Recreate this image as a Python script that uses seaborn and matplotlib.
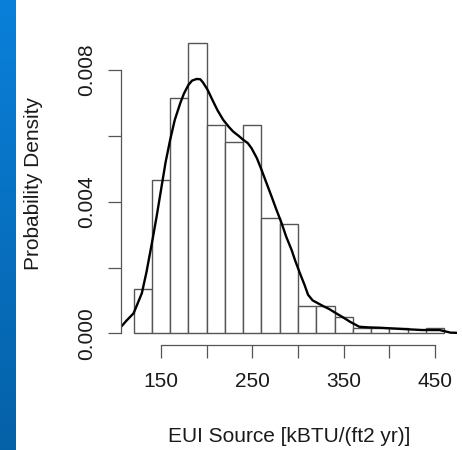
import numpy as np
import matplotlib
matplotlib.use("Agg")
import matplotlib.pyplot as plt
import seaborn as sns
from matplotlib.colors import LinearSegmentedColormap

# ---- data ----
bin_edges = [120, 140, 160, 180, 200, 220, 240, 260, 280, 300, 320, 340,
             360, 380, 400, 420, 440, 460]
bin_density = [0.00134, 0.00465, 0.00715, 0.00881, 0.00632, 0.00582, 0.00632,
               0.00349, 0.00333, 0.00082, 0.00082, 0.00051, 0.00016, 0.00016,
               0.00016, 0.0, 0.00016]
kde_x = [100, 107, 112, 120, 129, 134, 140, 145, 150, 155, 160, 165, 171,
         175, 180, 184, 189, 193, 196, 201, 207, 212, 218, 224, 229, 235,
         240, 245, 249, 255, 260, 265, 271, 276, 282, 287, 293, 297, 302,
         307, 311, 316, 322, 328, 334, 341, 349, 357, 367, 377, 389, 415,
         436, 455, 467, 480]
kde_y = [0.00010, 0.00022, 0.00038, 0.00061, 0.00122, 0.00185, 0.00274,
         0.00352, 0.00436, 0.00520, 0.00588, 0.00648, 0.00699, 0.00728,
         0.00755, 0.00768, 0.00773, 0.00772, 0.00762, 0.00740, 0.00705,
         0.00677, 0.00649, 0.00628, 0.00613, 0.00600, 0.00588, 0.00578,
         0.00563, 0.00532, 0.00497, 0.00460, 0.00416, 0.00378, 0.00335,
         0.00294, 0.00253, 0.00220, 0.00183, 0.00148, 0.00117, 0.00100,
         0.00091, 0.00082, 0.00074, 0.00062, 0.00049, 0.00035, 0.00020,
         0.00018, 0.00017, 0.00013, 0.00010, 0.00010, 0.00002, 0.00001]
x_ticks = [150, 200, 250, 300, 350, 400, 450]
x_ticklabels = ["150", "", "250", "", "350", "", "450"]
y_ticks = [0.000, 0.002, 0.004, 0.006, 0.008]
y_ticklabels = ["0.000", "", "0.004", "", "0.008"]
title_text = "Retail CPI"
x_label = "EUI Source [kBTU/(ft2 yr)]"
y_label = "Probability Density"

sns.set_theme(style="white")
plt.rcParams["font.family"] = ["Liberation Sans", "DejaVu Sans"]

W, H = 462, 450
fig = plt.figure(figsize=(W / 100, H / 100), dpi=100)
fig.patch.set_facecolor("white")

# blue strip at the left edge
strip = fig.add_axes([0, 0, 16 / W, 1])
cmap = LinearSegmentedColormap.from_list("strip", ["#0A80DA", "#0561A8"])
strip.imshow(np.linspace(0, 1, 256).reshape(-1, 1), aspect="auto", cmap=cmap,
             extent=[0, 1, 0, 1], origin="upper")
strip.axis("off")

ax = fig.add_axes([121.2 / W, 1 - 344.9 / H, 335.4 / W, 313 / H])
ax.set_facecolor("white")

centers = [(a + b) / 2 for a, b in zip(bin_edges[:-1], bin_edges[1:])]
sns.histplot(x=centers, weights=bin_density, bins=bin_edges, stat="count",
             color="white", edgecolor="#555555", linewidth=1.0, alpha=1,
             ax=ax)
sns.lineplot(x=kde_x, y=kde_y, color="black", linewidth=1.7, sort=False,
             ax=ax)

ax.set_xlim(106.4, 473.6)
ax.set_ylim(-0.000352, 0.00916)

for s in ["top", "right"]:
    ax.spines[s].set_visible(False)
ax.spines["left"].set_bounds(0, 0.008)
ax.spines["bottom"].set_bounds(150, 450)
for s in ["left", "bottom"]:
    ax.spines[s].set_color("#555555")
    ax.spines[s].set_linewidth(0.9)

ax.set_xticks(x_ticks)
ax.set_xticklabels(x_ticklabels)
ax.set_yticks(y_ticks)
ax.set_yticklabels(y_ticklabels, rotation=90, va="center")
ax.tick_params(axis="both", direction="out", length=9.4, width=0.9,
               color="#555555", labelsize=15, labelcolor="#1a1a1a",
               left=True, bottom=True)
ax.tick_params(axis="x", pad=10)
ax.tick_params(axis="y", pad=8.5)

ax.set_xlabel(x_label, fontsize=15, color="#1a1a1a")
ax.set_ylabel(y_label, fontsize=15, color="#1a1a1a")
ax.xaxis.label.set_va("center")
ax.yaxis.label.set_va("center")
ax.xaxis.set_label_coords(0.5, -0.2927)
ax.yaxis.set_label_coords(-0.2618, 0.516)

fig.text(262 / W, 1 + 2.5 / H, title_text, ha="center", va="baseline",
         fontsize=26, fontweight="bold", color="#222222")

fig.savefig("out.png", dpi=100)
